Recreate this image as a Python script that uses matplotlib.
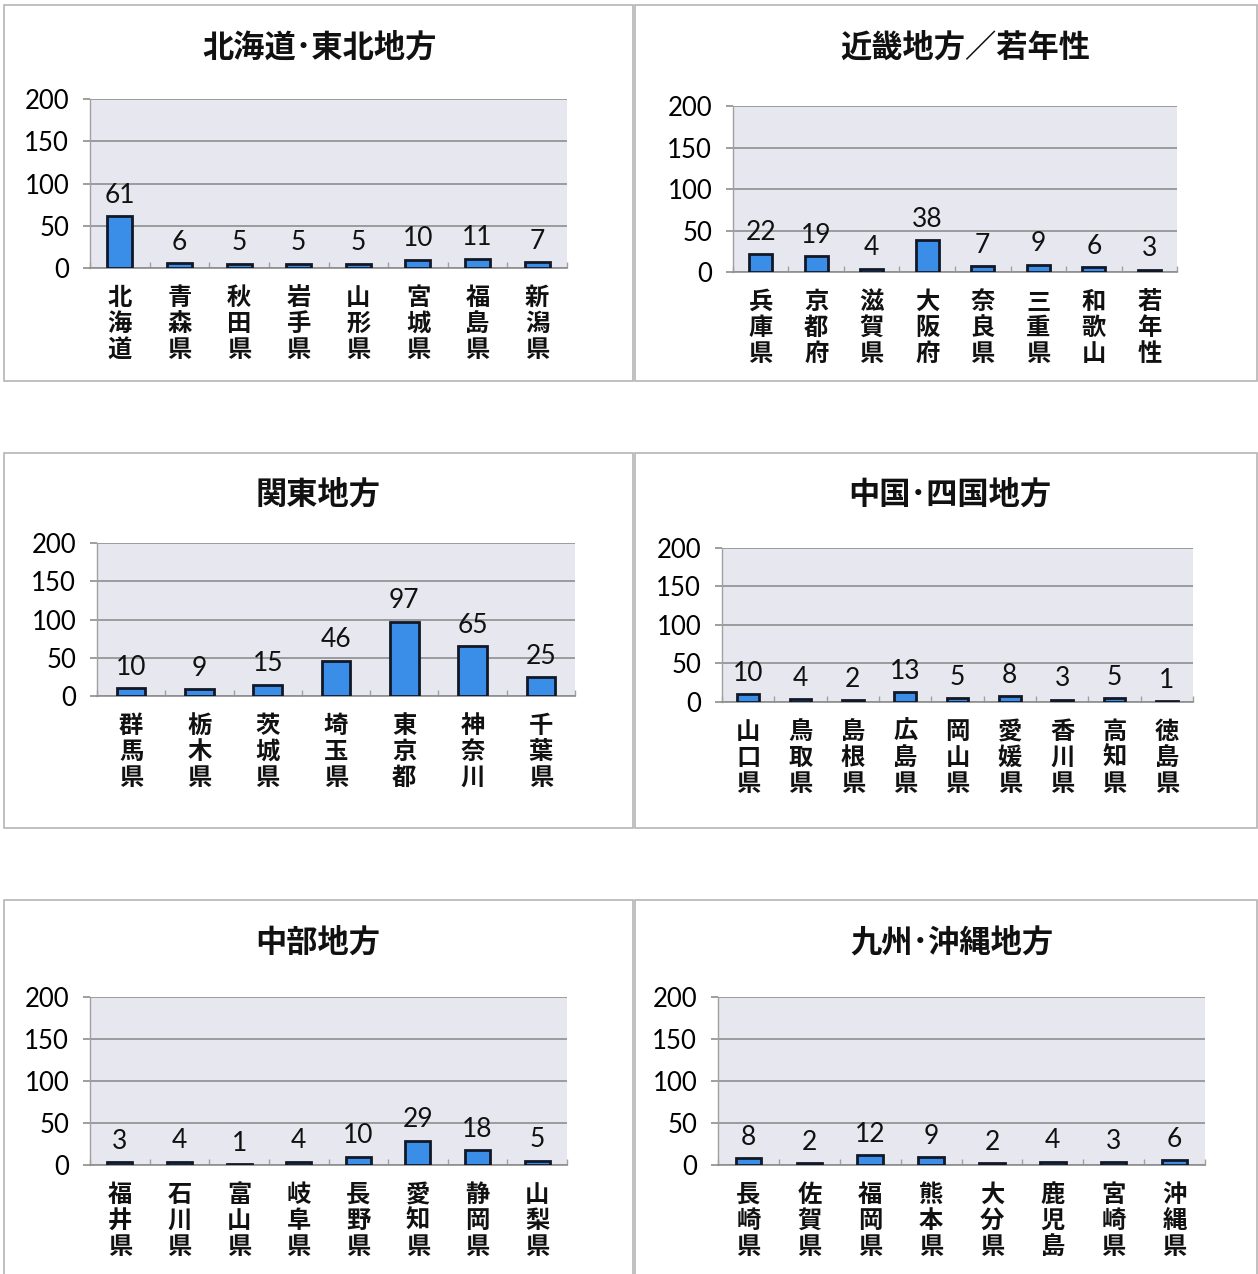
import matplotlib
matplotlib.use('Agg')
import matplotlib.pyplot as plt
from matplotlib.patches import Rectangle
from matplotlib.ticker import FixedLocator
import numpy as np

plt.rcParams['font.family'] = ['Noto Sans CJK JP', 'DejaVu Sans']

W, H = 1258, 1274

# ---------------- data ----------------
titles = ['北海道･東北地方', '近畿地方／若年性', '関東地方',
          '中国･四国地方', '中部地方', '九州･沖縄地方']

cats1 = ['北海道', '青森県', '秋田県', '岩手県', '山形県', '宮城県', '福島県', '新潟県']
vals1 = [61, 6, 5, 5, 5, 10, 11, 7]

cats2 = ['兵庫県', '京都府', '滋賀県', '大阪府', '奈良県', '三重県', '和歌山', '若年性']
vals2 = [22, 19, 4, 38, 7, 9, 6, 3]

cats3 = ['群馬県', '栃木県', '茨城県', '埼玉県', '東京都', '神奈川', '千葉県']
vals3 = [10, 9, 15, 46, 97, 65, 25]

cats4 = ['山口県', '鳥取県', '島根県', '広島県', '岡山県', '愛媛県', '香川県', '高知県', '徳島県']
vals4 = [10, 4, 2, 13, 5, 8, 3, 5, 1]

cats5 = ['福井県', '石川県', '富山県', '岐阜県', '長野県', '愛知県', '静岡県', '山梨県']
vals5 = [3, 4, 1, 4, 10, 29, 18, 5]

cats6 = ['長崎県', '佐賀県', '福岡県', '熊本県', '大分県', '鹿児島', '宮崎県', '沖縄県']
vals6 = [8, 2, 12, 9, 2, 4, 3, 6]

yticks = [0, 50, 100, 150, 200]

# ---------------- layout (pixels) ----------------
axes_px = [(90, 99, 567, 268), (733, 106, 1177, 272),
           (97, 543, 575, 696), (722, 548, 1193, 702),
           (90, 997, 567, 1165), (718, 997, 1205, 1165)]
boxes_px = [(4, 5, 633, 381), (635, 5, 1257, 381),
            (4, 453, 633, 828), (635, 453, 1257, 828),
            (4, 900, 633, 1280), (635, 900, 1257, 1280)]
title_px = [(320, 48), (965, 48), (318, 495), (950, 495), (318, 943), (952, 943)]

data = [(cats1, vals1), (cats2, vals2), (cats3, vals3),
        (cats4, vals4), (cats5, vals5), (cats6, vals6)]

fig = plt.figure(figsize=(W / 100, H / 100), dpi=100)
fig.patch.set_facecolor('white')

num_font = 'Lato'
grid_c = '#8e8e8e'

for i, ((cats, vals), (l, t, r, b), box, (tx, ty), title) in enumerate(
        zip(data, axes_px, boxes_px, title_px, titles)):
    x0, y0, x1, y1 = box
    fig.patches.append(Rectangle((x0 / W, 1 - y1 / H), (x1 - x0) / W, (y1 - y0) / H,
                                 transform=fig.transFigure, fill=False,
                                 ec='#b5b5b5', lw=1.2))
    fig.text(tx / W, 1 - ty / H, title, ha='center', va='center',
             fontsize=22.5, fontweight='bold', color='#111111')

    ax = fig.add_axes([l / W, 1 - b / H, (r - l) / W, (b - t) / H])
    n = len(cats)
    x = np.arange(n)
    bars = ax.bar(x, vals, width=0.42, color='#3b8ee8', edgecolor='#111827',
                  linewidth=2, zorder=3)
    ax.bar_label(bars, padding=6, fontsize=19, family=num_font, color='#111111')
    ax.set_xlim(-0.5, n - 0.5)
    ax.set_ylim(0, 200)
    ax.set_yticks(yticks)
    ax.set_facecolor('#e7e8ef')
    ax.grid(axis='y', color=grid_c, lw=1.2, zorder=1)
    ax.set_axisbelow(True)
    for s in ['top', 'right']:
        ax.spines[s].set_visible(False)
    ax.spines['left'].set_color('#a0a0a0')
    ax.spines['left'].set_linewidth(1)
    ax.spines['bottom'].set_color(grid_c)
    ax.spines['bottom'].set_linewidth(1.2)
    ax.tick_params(axis='y', length=5, color=grid_c, width=1.2, pad=10,
                   labelsize=18.5)
    for lab in ax.get_yticklabels():
        lab.set_family(num_font)
    ax.set_xticks(x)
    ax.set_xticklabels(['\n'.join(c) for c in cats], fontsize=17.5,
                       linespacing=1.1, color='#111111', fontweight='bold')
    ax.tick_params(axis='x', length=0, pad=13)
    ax.xaxis.set_minor_locator(FixedLocator(np.arange(n + 1) - 0.5))
    ax.tick_params(axis='x', which='minor', direction='in', length=4,
                   color='#a0a0a0', width=1)

fig.savefig('out.png', dpi=100, facecolor='white')
